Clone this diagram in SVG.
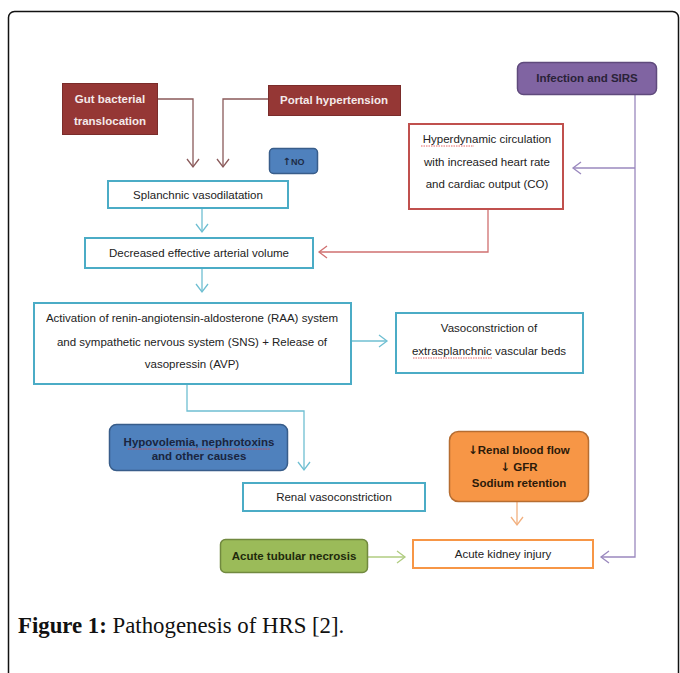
<svg xmlns="http://www.w3.org/2000/svg" width="680" height="673" viewBox="0 0 680 673">
<defs>
<style>
.t{font-family:"Liberation Sans",Arial,sans-serif;font-size:11.5px;fill:#222;text-anchor:middle}
.b{font-family:"Liberation Sans",Arial,sans-serif;font-size:11.5px;font-weight:bold;text-anchor:middle}
.ar{font-family:"DejaVu Sans",sans-serif;font-weight:bold}
.w{fill:#f4eaea}
.d{fill:#2a2238}
.box{fill:#fff;stroke-width:2}
.teal{stroke:#4bacc6}
.red{stroke:#c0504d}
.c{fill:none;stroke-width:1.3}
.sq{fill:none;stroke:#e04040;stroke-width:0.8;stroke-dasharray:1.5 1}
</style>
<marker id="aBr" markerWidth="14" markerHeight="14" refX="9" refY="7" orient="auto" markerUnits="userSpaceOnUse"><path d="M1,1 L9,7 L1,13" fill="none" stroke="#8a5a5a" stroke-width="1.3"/></marker>
<marker id="aTl" markerWidth="14" markerHeight="14" refX="9" refY="7" orient="auto" markerUnits="userSpaceOnUse"><path d="M1,1 L9,7 L1,13" fill="none" stroke="#6fbfd2" stroke-width="1.3"/></marker>
<marker id="aRd" markerWidth="14" markerHeight="14" refX="9" refY="7" orient="auto" markerUnits="userSpaceOnUse"><path d="M1,1 L9,7 L1,13" fill="none" stroke="#d07070" stroke-width="1.3"/></marker>
<marker id="aPu" markerWidth="14" markerHeight="14" refX="9" refY="7" orient="auto" markerUnits="userSpaceOnUse"><path d="M1,1 L9,7 L1,13" fill="none" stroke="#9a88be" stroke-width="1.3"/></marker>
<marker id="aOr" markerWidth="14" markerHeight="14" refX="9" refY="7" orient="auto" markerUnits="userSpaceOnUse"><path d="M1,1 L9,7 L1,13" fill="none" stroke="#f2b07f" stroke-width="1.3"/></marker>
<marker id="aGr" markerWidth="14" markerHeight="14" refX="9" refY="7" orient="auto" markerUnits="userSpaceOnUse"><path d="M1,1 L9,7 L1,13" fill="none" stroke="#b0cc80" stroke-width="1.3"/></marker>
</defs>
<rect width="680" height="673" fill="#fff"/>
<rect x="8.5" y="11.5" width="670" height="700" rx="6" fill="none" stroke="#111" stroke-width="1.5"/>

<g id="connectors">
<path class="c" d="M158,99 H193 V167" stroke="#8a5a5a" marker-end="url(#aBr)"/>
<path class="c" d="M268,99 H223 V167" stroke="#8a5a5a" marker-end="url(#aBr)"/>
<path class="c" d="M202,209 V232" stroke="#6fbfd2" marker-end="url(#aTl)"/>
<path class="c" d="M488,209 V252 H319" stroke="#d07070" marker-end="url(#aRd)"/>
<path class="c" d="M202,268 V292" stroke="#6fbfd2" marker-end="url(#aTl)"/>
<path class="c" d="M351,341 H387" stroke="#6fbfd2" marker-end="url(#aTl)"/>
<path class="c" d="M187,384 V411 H304 V470" stroke="#6fbfd2" marker-end="url(#aTl)"/>
<path class="c" d="M517,502 V525" stroke="#f2b07f" marker-end="url(#aOr)"/>
<path class="c" d="M368,557 H405" stroke="#b0cc80" marker-end="url(#aGr)"/>
<path class="c" d="M635,95 V557 H601" stroke="#9a88be" marker-end="url(#aPu)"/>
<path class="c" d="M635,168 H573" stroke="#9a88be" marker-end="url(#aPu)"/>
</g>

<g id="gut">
<rect x="62.5" y="83.5" width="95" height="51" fill="#953735" stroke="#7a2c2a" stroke-width="1"/>
<text class="b w" x="110" y="103">Gut bacterial</text>
<text class="b w" x="110" y="125">translocation</text>
</g>
<g id="portal">
<rect x="268.5" y="85.5" width="132" height="30" fill="#953735" stroke="#7a2c2a" stroke-width="1"/>
<text class="b w" x="334" y="104">Portal hypertension</text>
</g>
<g id="infection">
<rect x="517.5" y="62.5" width="139" height="32" rx="6" fill="#8064a2" stroke="#5f4a7c" stroke-width="1.5"/>
<text class="b d" x="587" y="82">Infection and SIRS</text>
</g>
<g id="no">
<rect x="269.5" y="148.5" width="48" height="25" rx="4" fill="#4f81bd" stroke="#385d8a" stroke-width="1.5"/>
<text class="b" x="293.5" y="164.5" style="font-size:9px;fill:#1d2b45"><tspan class="ar" style="font-size:10px">↑</tspan>NO</text>
</g>
<g id="splanchnic">
<rect class="box teal" x="108" y="181" width="180" height="27"/>
<text class="t" x="198" y="199">Splanchnic vasodilatation</text>
</g>
<g id="hyperdynamic">
<rect class="box red" x="409" y="124" width="154" height="85"/>
<text class="t" x="487" y="143">Hyperdynamic circulation</text>
<text class="t" x="487" y="166">with increased heart rate</text>
<text class="t" x="487" y="188">and cardiac output (CO)</text>
<path class="sq" d="M421,146 H474"/>
</g>
<g id="decreased">
<rect class="box teal" x="85" y="238" width="228" height="30"/>
<text class="t" x="199" y="257">Decreased effective arterial volume</text>
</g>
<g id="activation">
<rect class="box teal" x="34" y="303" width="317" height="81"/>
<text class="t" x="192" y="322">Activation of renin-angiotensin-aldosterone (RAA) system</text>
<text class="t" x="192" y="346">and sympathetic nervous system (SNS) + Release of</text>
<text class="t" x="192" y="368">vasopressin (AVP)</text>
</g>
<g id="vasoconstriction">
<rect class="box teal" x="396" y="313" width="187" height="60"/>
<text class="t" x="489" y="332">Vasoconstriction of</text>
<text class="t" x="489" y="355">extrasplanchnic vascular beds</text>
<path class="sq" d="M413,358 H492"/>
</g>
<g id="hypovolemia">
<rect x="109.5" y="424.5" width="178" height="46" rx="7" fill="#4f81bd" stroke="#385d8a" stroke-width="1.5"/>
<text class="b" x="199" y="446" style="fill:#1a2540">Hypovolemia, nephrotoxins</text>
<text class="b" x="199" y="460" style="fill:#1a2540">and other causes</text>
<path class="sq" d="M128,449 H270"/>
</g>
<g id="renalflow">
<rect x="449.5" y="431.5" width="139" height="70" rx="9" fill="#f79646" stroke="#b66d31" stroke-width="1.5"/>
<text class="b" x="519" y="454" style="fill:#2b1a0a"><tspan class="ar">↓</tspan>Renal blood flow</text>
<text class="b" x="519" y="471" style="fill:#2b1a0a"><tspan class="ar">↓</tspan> GFR</text>
<text class="b" x="519" y="487" style="fill:#2b1a0a">Sodium retention</text>
</g>
<g id="renalvaso">
<rect class="box teal" x="243" y="483" width="182" height="28"/>
<text class="t" x="334" y="501">Renal vasoconstriction</text>
</g>
<g id="atn">
<rect x="220.5" y="539.5" width="147" height="33" rx="5" fill="#9bbb59" stroke="#71893f" stroke-width="1.5"/>
<text class="b" x="294" y="560" style="fill:#1f2a0c">Acute tubular necrosis</text>
</g>
<g id="aki">
<rect class="box" x="413" y="540" width="180" height="28" stroke="#f79646"/>
<text class="t" x="503" y="558">Acute kidney injury</text>
</g>

<text x="18" y="633" style="font-family:'Liberation Serif','Times New Roman',serif;font-size:22.8px;fill:#111"><tspan font-weight="bold">Figure 1:</tspan> Pathogenesis of HRS [2].</text>
</svg>
